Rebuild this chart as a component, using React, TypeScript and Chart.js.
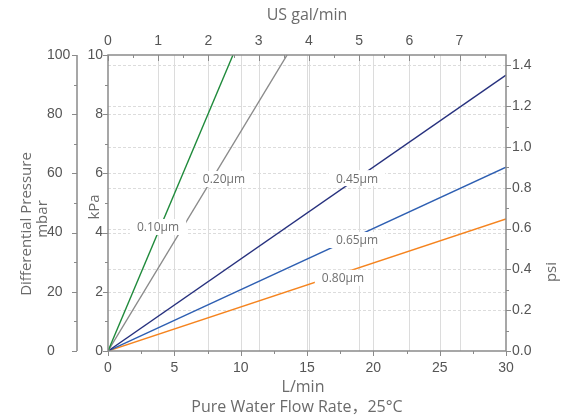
import React, { useEffect, useRef } from 'react';
import { Chart, registerables } from 'chart.js';

Chart.register(...registerables);

// ---- data ----
const seriesNames = ['0.10µm', '0.20µm', '0.45µm', '0.65µm', '0.80µm'];
const seriesFlow = [
  [0, 9.42],
  [0, 13.5],
  [0, 30],
  [0, 30],
  [0, 30],
];
const seriesKpa = [
  [0, 10],
  [0, 10],
  [0, 9.32],
  [0, 6.21],
  [0, 4.46],
];
// where each series' name label sits (data coordinates: L/min, kPa)
const labelFlow = [3.77, 8.74, 18.77, 18.77, 17.71];
const labelKpa = [4.19, 5.81, 5.84, 3.75, 2.47];

const flowTicks = [0, 5, 10, 15, 20, 25, 30];
const galTicks = [0, 1, 2, 3, 4, 5, 6, 7];
const kpaTicks = [0, 2, 4, 6, 8, 10];
const mbarTicks = [0, 20, 40, 60, 80, 100];
const psiTicks = [0, 0.2, 0.4, 0.6, 0.8, 1.0, 1.2, 1.4];

const L_PER_GAL = 3.785;
const KPA_PER_PSI = 6.894757;
const FLOW_MAX = 30;
const KPA_MAX = 10;

const seriesColors = ['#1f8a3b', '#8a8a8a', '#27317e', '#2e5fb2', '#f5841f'];

const TICK_FONT = { family: '"Liberation Sans", Arial, sans-serif', size: 14 };
const TICK_COLOR = '#555';
const TITLE_FONT = '16px "Open Sans", "Noto Sans CJK SC", sans-serif';
const SIDE_TITLE_FONT = '15px "Open Sans", sans-serif';
const TITLE_COLOR = '#6b6b6b';
const AXIS_COLOR = '#8a8a8a';

const overlay = {
  id: 'overlay',
  beforeDatasetsDraw(chart: any) {
    const { ctx, chartArea: a, scales } = chart;
    ctx.save();
    ctx.lineWidth = 1;
    ctx.strokeStyle = '#dcdcdc';
    const vx = (px: number) => {
      const x = Math.round(px) + 0.5;
      ctx.beginPath();
      ctx.moveTo(x, a.top);
      ctx.lineTo(x, a.bottom);
      ctx.stroke();
    };
    for (let v = 5; v < FLOW_MAX; v += 5) vx(scales.x.getPixelForValue(v));
    for (let g = 1; g <= 7; g++) vx(scales.x2.getPixelForValue(g));
    ctx.setLineDash([3, 2]);
    const hy = (py: number) => {
      const y = Math.round(py) + 0.5;
      ctx.beginPath();
      ctx.moveTo(a.left, y);
      ctx.lineTo(a.right, y);
      ctx.stroke();
    };
    for (let k = 2; k < KPA_MAX; k += 2) hy(scales.y.getPixelForValue(k));
    for (let i = 1; i <= 7; i++) hy(scales.y3.getPixelForValue(i * 0.2));
    ctx.restore();
  },
  afterDatasetsDraw(chart: any) {
    const { ctx, chartArea: a, scales } = chart;
    ctx.save();
    // series labels with white boxes
    ctx.font = '12px "Open Sans", sans-serif';
    ctx.textAlign = 'center';
    ctx.textBaseline = 'middle';
    seriesNames.forEach((name, i) => {
      const cx = scales.x.getPixelForValue(labelFlow[i]);
      const cy = scales.y.getPixelForValue(labelKpa[i]);
      const w = ctx.measureText(name).width + 14;
      ctx.fillStyle = '#fff';
      ctx.fillRect(cx - w / 2, cy - 8, w, 16);
      ctx.fillStyle = '#707070';
      ctx.fillText(name, cx, cy + 1);
    });

    // axis box
    ctx.strokeStyle = AXIS_COLOR;
    ctx.lineWidth = 1.5;
    ctx.strokeRect(a.left, a.top, a.right - a.left, a.bottom - a.top);
    // mbar axis line
    const mx = scales.y2.right;
    ctx.beginPath();
    ctx.moveTo(mx, a.top);
    ctx.lineTo(mx, a.bottom);
    ctx.stroke();

    ctx.lineWidth = 1;
    const hTick = (scale: any, v: number, len: number, y0: number, dir: number) => {
      const x = Math.round(scale.getPixelForValue(v)) + 0.5;
      ctx.beginPath();
      ctx.moveTo(x, y0);
      ctx.lineTo(x, y0 + dir * len);
      ctx.stroke();
    };
    const vTick = (scale: any, v: number, len: number, x0: number, dir: number) => {
      const y = Math.round(scale.getPixelForValue(v)) + 0.5;
      ctx.beginPath();
      ctx.moveTo(x0, y);
      ctx.lineTo(x0 + dir * len, y);
      ctx.stroke();
    };
    // bottom L/min ticks (outward)
    for (let v = 0; v <= FLOW_MAX + 0.001; v += 2.5) hTick(scales.x, v, v % 5 === 0 ? 5 : 3, a.bottom, 1);
    // top gal ticks (inward)
    const galMax = FLOW_MAX / L_PER_GAL;
    for (let g = 0; g <= galMax; g += 0.5) hTick(scales.x2, g, g % 1 === 0 ? 6 : 3, a.top, 1);
    // kPa ticks (outward left)
    for (let k = 0; k <= KPA_MAX; k += 1) vTick(scales.y, k, k % 2 === 0 ? 5 : 3, a.left, -1);
    // mbar ticks
    for (let m = 0; m <= 100; m += 10) vTick(scales.y2, m, m % 20 === 0 ? 5 : 3, mx, -1);
    // psi ticks (outward right)
    const psiMax = KPA_MAX / KPA_PER_PSI;
    for (let i = 0; i * 0.1 <= psiMax; i++) vTick(scales.y3, i * 0.1, i % 2 === 0 ? 5 : 3, a.right, 1);

    // titles
    ctx.fillStyle = TITLE_COLOR;
    ctx.font = TITLE_FONT;
    ctx.textAlign = 'center';
    ctx.textBaseline = 'middle';
    const cxArea = (a.left + a.right) / 2;
    ctx.fillText('US gal/min', cxArea, 15);
    ctx.fillText('L/min', cxArea - 4, 387);
    ctx.fillText('Pure Water Flow Rate，25°C', cxArea - 10, 407);

    const rot = (text: string, x: number, y: number, baseline: CanvasTextBaseline) => {
      ctx.save();
      ctx.translate(x, y);
      ctx.rotate(-Math.PI / 2);
      ctx.textBaseline = baseline;
      ctx.fillText(text, 0, 0);
      ctx.restore();
    };
    ctx.font = SIDE_TITLE_FONT;
    rot('Differential Pressure', 31, 224, 'alphabetic');
    rot('mbar', 47, 219, 'alphabetic');
    rot('kPa', 99, 207, 'alphabetic');
    rot('psi', 552, 272, 'middle');
    ctx.restore();
  },
};

export default function App() {
  const ref = useRef<HTMLCanvasElement | null>(null);
  useEffect(() => {
    document.body.style.margin = '0';
    if (!ref.current) return;
    const chart = new Chart(ref.current, {
      type: 'line',
      data: {
        datasets: seriesNames.map((name, i) => ({
          label: name,
          data: seriesFlow[i].map((f, j) => ({ x: f, y: seriesKpa[i][j] })),
          borderColor: seriesColors[i],
          backgroundColor: seriesColors[i],
          borderWidth: 1.4,
          pointRadius: 0,
          xAxisID: 'x',
          yAxisID: 'y',
        })),
      },
      options: {
        animation: false,
        responsive: false,
        events: [],
        layout: { padding: { left: 47, right: 0, top: 0, bottom: 0 } },
        plugins: { legend: { display: false }, tooltip: { enabled: false } },
        scales: {
          x: {
            type: 'linear',
            position: 'bottom',
            min: 0,
            max: FLOW_MAX,
            afterBuildTicks: (s: any) => { s.ticks = flowTicks.map((value) => ({ value })); },
            ticks: { font: TICK_FONT, color: TICK_COLOR, padding: 9, maxRotation: 0, autoSkip: false },
            grid: { display: false, drawTicks: false },
            border: { display: false },
            afterFit: (s: any) => { s.height = 68; },
          },
          x2: {
            type: 'linear',
            position: 'top',
            min: 0,
            max: FLOW_MAX / L_PER_GAL,
            afterBuildTicks: (s: any) => { s.ticks = galTicks.map((value) => ({ value })); },
            ticks: { font: TICK_FONT, color: TICK_COLOR, padding: 5, maxRotation: 0, autoSkip: false },
            grid: { display: false, drawTicks: false },
            border: { display: false },
            afterFit: (s: any) => { s.height = 55; },
          },
          y: {
            type: 'linear',
            position: 'left',
            weight: 0,
            min: 0,
            max: KPA_MAX,
            afterBuildTicks: (s: any) => { s.ticks = kpaTicks.map((value) => ({ value })); },
            ticks: { font: TICK_FONT, color: TICK_COLOR, padding: 5, autoSkip: false },
            grid: { display: false, drawTicks: false },
            border: { display: false },
            afterFit: (s: any) => { s.width = 31; },
          },
          y2: {
            type: 'linear',
            position: 'left',
            weight: 1,
            min: 0,
            max: 100,
            afterBuildTicks: (s: any) => { s.ticks = mbarTicks.map((value) => ({ value })); },
            ticks: { font: TICK_FONT, color: TICK_COLOR, padding: 5, crossAlign: 'far', autoSkip: false },
            grid: { display: false, drawTicks: false },
            border: { display: false },
            afterFit: (s: any) => { s.width = 30; },
          },
          y3: {
            type: 'linear',
            position: 'right',
            min: 0,
            max: KPA_MAX / KPA_PER_PSI,
            afterBuildTicks: (s: any) => { s.ticks = psiTicks.map((value) => ({ value })); },
            ticks: {
              font: TICK_FONT,
              color: TICK_COLOR,
              padding: 6,
              autoSkip: false,
              callback: (v: any) => Number(v).toFixed(1),
            },
            grid: { display: false, drawTicks: false },
            border: { display: false },
            afterFit: (s: any) => { s.width = 62; },
          },
        },
      },
      plugins: [overlay],
    } as any);
    return () => chart.destroy();
  }, []);
  return <canvas ref={ref} width={568} height={419} style={{ display: 'block' }} />;
}
